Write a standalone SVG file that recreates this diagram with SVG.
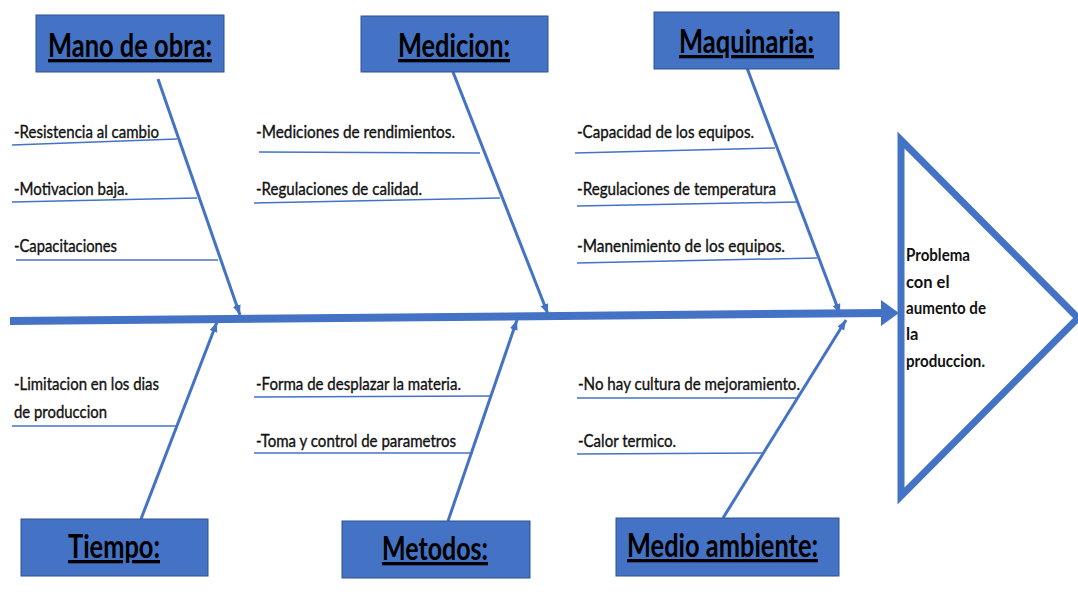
<svg xmlns="http://www.w3.org/2000/svg" width="1078" height="594" viewBox="0 0 1078 594">
<style>
.box{fill:#4472C4;stroke:#2F528F;stroke-width:1}
.title{font-family:Lato,"Liberation Sans",sans-serif;font-weight:bold;font-size:33px;fill:#000;text-decoration:underline}
.item{font-family:Lato,"Liberation Sans",sans-serif;font-size:16.5px;fill:#111;stroke:#111;stroke-width:0.35}
.prob{font-family:Lato,"Liberation Sans",sans-serif;font-weight:bold;font-size:16.5px;fill:#111}
.bone{stroke:#4472C4;stroke-width:3;fill:none}
.rib{stroke:#4472C4;stroke-width:1.5;fill:none}
</style>
<defs>
<marker id="ah" markerUnits="userSpaceOnUse" markerWidth="12" markerHeight="12" refX="10" refY="4" orient="auto" viewBox="0 0 12 8">
<path d="M0,0 L10,4 L0,8 Z" fill="#4472C4"/>
</marker>
</defs>
<rect width="1078" height="594" fill="#fff"/>
<g id="connectors">
<line x1="10" y1="321" x2="884" y2="313" stroke="#4472C4" stroke-width="8"/>
<polygon points="881,300 899,313 881,326" fill="#4472C4"/>
<line class="bone" x1="158" y1="79" x2="240" y2="315" marker-end="url(#ah)"/>
<line class="bone" x1="453" y1="72" x2="548" y2="314" marker-end="url(#ah)"/>
<line class="bone" x1="747" y1="68" x2="840" y2="314" marker-end="url(#ah)"/>
<line class="bone" x1="141" y1="519" x2="217" y2="322" marker-end="url(#ah)"/>
<line class="bone" x1="448" y1="521" x2="517" y2="320" marker-end="url(#ah)"/>
<line class="bone" x1="723" y1="518" x2="846" y2="320" marker-end="url(#ah)"/>
<line class="rib" x1="12" y1="145" x2="177" y2="139"/>
<line class="rib" x1="12" y1="202" x2="197" y2="198"/>
<line class="rib" x1="16" y1="260" x2="218" y2="260"/>
<line class="rib" x1="259" y1="152" x2="480" y2="153"/>
<line class="rib" x1="254" y1="203" x2="500" y2="198"/>
<line class="rib" x1="575" y1="153" x2="775" y2="148"/>
<line class="rib" x1="577" y1="206" x2="797" y2="202"/>
<line class="rib" x1="577" y1="263" x2="817" y2="258"/>
<line class="rib" x1="12" y1="426" x2="176" y2="426"/>
<line class="rib" x1="254" y1="397" x2="492" y2="396"/>
<line class="rib" x1="254" y1="453" x2="473" y2="453"/>
<line class="rib" x1="577" y1="398" x2="798" y2="398"/>
<line class="rib" x1="577" y1="454" x2="762" y2="453"/>
</g>
<g id="mano-de-obra">
<rect class="box" x="36" y="15" width="188" height="57"/>
<text class="title" x="48" y="57" textLength="164" lengthAdjust="spacingAndGlyphs">Mano de obra:</text>
<text class="item" x="14" y="138" textLength="145" lengthAdjust="spacingAndGlyphs">-Resistencia al cambio</text>
<text class="item" x="14" y="195" textLength="114" lengthAdjust="spacingAndGlyphs">-Motivacion baja.</text>
<text class="item" x="14" y="252" textLength="103" lengthAdjust="spacingAndGlyphs">-Capacitaciones</text>
</g>
<g id="medicion">
<rect class="box" x="361" y="16" width="187" height="56"/>
<text class="title" x="398" y="57" textLength="112" lengthAdjust="spacingAndGlyphs">Medicion:</text>
<text class="item" x="256" y="138" textLength="199" lengthAdjust="spacingAndGlyphs">-Mediciones de rendimientos.</text>
<text class="item" x="256" y="195" textLength="166" lengthAdjust="spacingAndGlyphs">-Regulaciones de calidad.</text>
</g>
<g id="maquinaria">
<rect class="box" x="654" y="12" width="185" height="57"/>
<text class="title" x="679" y="53" textLength="135" lengthAdjust="spacingAndGlyphs">Maquinaria:</text>
<text class="item" x="577" y="138" textLength="177" lengthAdjust="spacingAndGlyphs">-Capacidad de los equipos.</text>
<text class="item" x="577" y="195" textLength="199" lengthAdjust="spacingAndGlyphs">-Regulaciones de temperatura</text>
<text class="item" x="577" y="252" textLength="208" lengthAdjust="spacingAndGlyphs">-Manenimiento de los equipos.</text>
</g>
<g id="tiempo">
<rect class="box" x="21" y="519" width="187" height="57"/>
<text class="title" x="68" y="558" textLength="92" lengthAdjust="spacingAndGlyphs">Tiempo:</text>
<text class="item" x="14" y="390" textLength="145" lengthAdjust="spacingAndGlyphs">-Limitacion en los dias</text>
<text class="item" x="14" y="418" textLength="93" lengthAdjust="spacingAndGlyphs">de produccion</text>
</g>
<g id="metodos">
<rect class="box" x="342" y="521" width="188" height="57"/>
<text class="title" x="382" y="560" textLength="106" lengthAdjust="spacingAndGlyphs">Metodos:</text>
<text class="item" x="256" y="390" textLength="205" lengthAdjust="spacingAndGlyphs">-Forma de desplazar la materia.</text>
<text class="item" x="256" y="447" textLength="200" lengthAdjust="spacingAndGlyphs">-Toma y control de parametros</text>
</g>
<g id="medio-ambiente">
<rect class="box" x="616" y="518" width="223" height="58"/>
<text class="title" x="627" y="557" textLength="191" lengthAdjust="spacingAndGlyphs">Medio ambiente:</text>
<text class="item" x="578" y="390" textLength="222" lengthAdjust="spacingAndGlyphs">-No hay cultura de mejoramiento.</text>
<text class="item" x="578" y="447" textLength="98" lengthAdjust="spacingAndGlyphs">-Calor termico.</text>
</g>
<g id="problema">
<polygon points="901,140 1078,318 901,496" fill="#fff" stroke="#4472C4" stroke-width="7"/>
<text class="prob" x="906" y="261" textLength="64" lengthAdjust="spacingAndGlyphs">Problema</text>
<text class="prob" x="906" y="288">con el</text>
<text class="prob" x="906" y="314" textLength="80" lengthAdjust="spacingAndGlyphs">aumento de</text>
<text class="prob" x="906" y="340">la</text>
<text class="prob" x="906" y="367" textLength="79" lengthAdjust="spacingAndGlyphs">produccion.</text>
</g>
</svg>
